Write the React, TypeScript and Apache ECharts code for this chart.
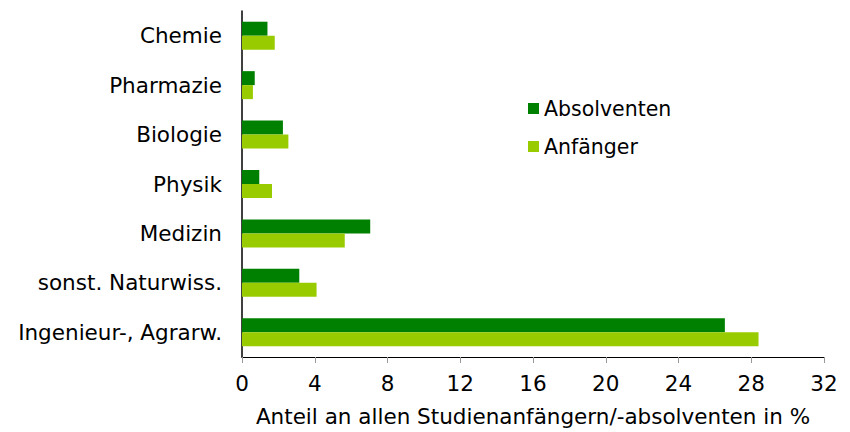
import React, { useEffect, useRef } from "react";
import * as echarts from "echarts";

const categories = [
  "Chemie",
  "Pharmazie",
  "Biologie",
  "Physik",
  "Medizin",
  "sonst. Naturwiss.",
  "Ingenieur-, Agrarw.",
];
const absolventen = [1.4, 0.7, 2.25, 0.95, 7.05, 3.15, 26.55];
const anfaenger = [1.8, 0.6, 2.55, 1.65, 5.65, 4.1, 28.4];
const xTicks = { min: 0, max: 32, interval: 4 };

export default function App() {
  const ref = useRef<HTMLDivElement>(null);
  useEffect(() => {
    if (!ref.current) return;
    const chart = echarts.init(ref.current, null, { renderer: "svg" });
    const font = "DejaVu Sans, Verdana, sans-serif";
    const fs = 21.5;
    chart.setOption({
      animation: false,
      textStyle: { fontFamily: font },
      grid: { left: 242, right: 26, top: 11, bottom: 66 },
      legend: {
        orient: "vertical",
        left: 523,
        top: 93,
        itemWidth: 11,
        itemHeight: 11,
        itemGap: 17,
        icon: "rect",
        textStyle: { fontSize: 20.5, color: "#000", fontFamily: font },
        data: ["Absolventen", "Anfänger"],
      },
      xAxis: {
        type: "value",
        min: xTicks.min,
        max: xTicks.max,
        interval: xTicks.interval,
        splitLine: { show: false },
        axisLine: { show: true, lineStyle: { color: "#000", width: 1 } },
        axisTick: { show: true, length: 6, lineStyle: { color: "#999" } },
        axisLabel: { fontSize: fs, color: "#000", margin: 15, fontFamily: font },
        name: "Anteil an allen Studienanfängern/-absolventen in %",
        nameLocation: "middle",
        nameGap: 48,
        nameTextStyle: { fontSize: fs, color: "#000", fontFamily: font },
      },
      yAxis: {
        type: "category",
        inverse: true,
        data: categories,
        axisLine: { show: true, lineStyle: { color: "#000", width: 1.5 } },
        axisTick: { show: false },
        axisLabel: { fontSize: fs, color: "#000", margin: 20, fontFamily: font },
      },
      series: [
        {
          name: "Absolventen",
          type: "bar",
          data: absolventen,
          itemStyle: { color: "#008000" },
          barWidth: 14,
          barGap: "0%",
        },
        {
          name: "Anfänger",
          type: "bar",
          data: anfaenger,
          itemStyle: { color: "#99CC00" },
          barWidth: 14,
          barGap: "0%",
        },
      ],
    });
    return () => chart.dispose();
  }, []);
  return (
    <div
      ref={ref}
      style={{ position: "absolute", left: 0, top: 0, width: 850, height: 432 }}
    />
  );
}
